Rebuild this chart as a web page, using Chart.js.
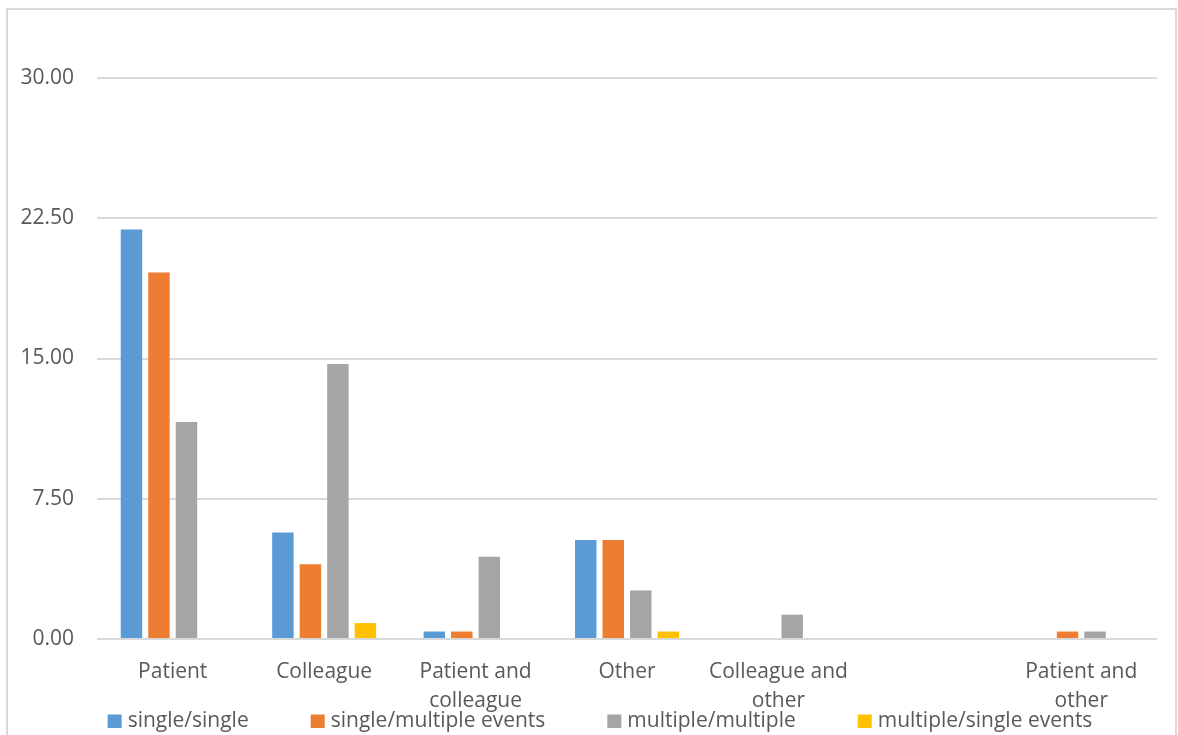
<!DOCTYPE html>
<html><head><meta charset="utf-8">
<script src="https://cdn.jsdelivr.net/npm/chart.js@4.4.1/dist/chart.umd.min.js"></script>
<style>html,body{margin:0;padding:0;background:#fff;overflow:hidden}#wrap{width:1178px;height:735px;position:relative}</style>
</head><body><div id="wrap"><canvas id="c" width="1178" height="735"></canvas></div>
<script>
const categories = ['Patient', 'Colleague', ['Patient and', 'colleague'], 'Other', ['Colleague and', 'other'], '', ['Patient and', 'other']];
const seriesNames = ['single/single', 'single/multiple events', 'multiple/multiple', 'multiple/single events'];
const singleSingle = [21.9, 5.7, 0.4, 5.3, 0, 0, 0];
const singleMultiple = [19.6, 4.0, 0.4, 5.3, 0, 0, 0.4];
const multipleMultiple = [11.6, 14.7, 4.4, 2.6, 1.3, 0, 0.4];
const multipleSingle = [0, 0.85, 0, 0.4, 0, 0, 0];
const yTicks = [0, 7.5, 15, 22.5, 30];
const seriesColors = ['#5B9BD5', '#ED7D31', '#A5A5A5', '#FFC000'];

const FONT = '"Open Sans", "Noto Sans", sans-serif';
const TEXT = '#595959';
const GRID = '#D9D9D9';

const framePlugin = {
  id: 'frame',
  beforeDraw(chart) {
    const ctx = chart.ctx;
    ctx.save();
    ctx.fillStyle = '#fff';
    ctx.fillRect(0, 0, chart.width, chart.height);
    ctx.strokeStyle = GRID;
    ctx.lineWidth = 2;
    ctx.strokeRect(7, 9, 1169, 760);
    ctx.restore();
  }
};

const legendPlugin = {
  id: 'bottomLegend',
  afterDraw(chart) {
    const ctx = chart.ctx;
    ctx.save();
    ctx.font = '21px ' + FONT;
    const box = 14, gapBox = 6, gapItem = 62;
    const items = chart.data.datasets.map(d => ({ text: d.label, color: d.backgroundColor, w: ctx.measureText(d.label).width }));
    const total = items.reduce((s, it) => s + box + gapBox + it.w, 0) + gapItem * (items.length - 1);
    let x = 600 - total / 2;
    const yc = 721.5;
    ctx.textBaseline = 'middle';
    ctx.textAlign = 'left';
    items.forEach(it => {
      ctx.fillStyle = it.color;
      ctx.fillRect(x, yc - 7, box, 13.5);
      ctx.fillStyle = TEXT;
      ctx.fillText(it.text, x + box + gapBox, yc);
      x += box + gapBox + it.w + gapItem;
    });
    ctx.restore();
  }
};

const datasets = [singleSingle, singleMultiple, multipleMultiple, multipleSingle].map((vals, i) => ({
  label: seriesNames[i],
  data: vals,
  backgroundColor: seriesColors[i],
  borderWidth: 0,
  barPercentage: 0.78,
  categoryPercentage: 0.7264
}));

new Chart(document.getElementById('c'), {
  type: 'bar',
  data: { labels: categories, datasets },
  options: {
    responsive: false,
    animation: false,
    devicePixelRatio: 1,
    layout: { padding: { top: 78, right: 21, bottom: 0, left: 0 } },
    plugins: { legend: { display: false }, tooltip: { enabled: false } },
    scales: {
      x: {
        grid: { display: false, drawTicks: false },
        border: { display: false },
        ticks: {
          color: TEXT,
          font: { family: FONT, size: 21, lineHeight: 1.4 },
          padding: 18,
          autoSkip: false,
          maxRotation: 0,
          minRotation: 0
        },
        afterFit(s) { s.height = 96; }
      },
      y: {
        min: 0,
        max: 30,
        afterBuildTicks(s) { s.ticks = yTicks.map(v => ({ value: v })); },
        grid: { color: GRID, lineWidth: 2, drawTicks: false },
        border: { display: false },
        ticks: {
          color: TEXT,
          font: { family: FONT, size: 21 },
          padding: 23,
          callback: v => Number(v).toFixed(2)
        },
        afterFit(s) { s.width = 97; }
      }
    }
  },
  plugins: [framePlugin, legendPlugin]
});
</script>
</body></html>
